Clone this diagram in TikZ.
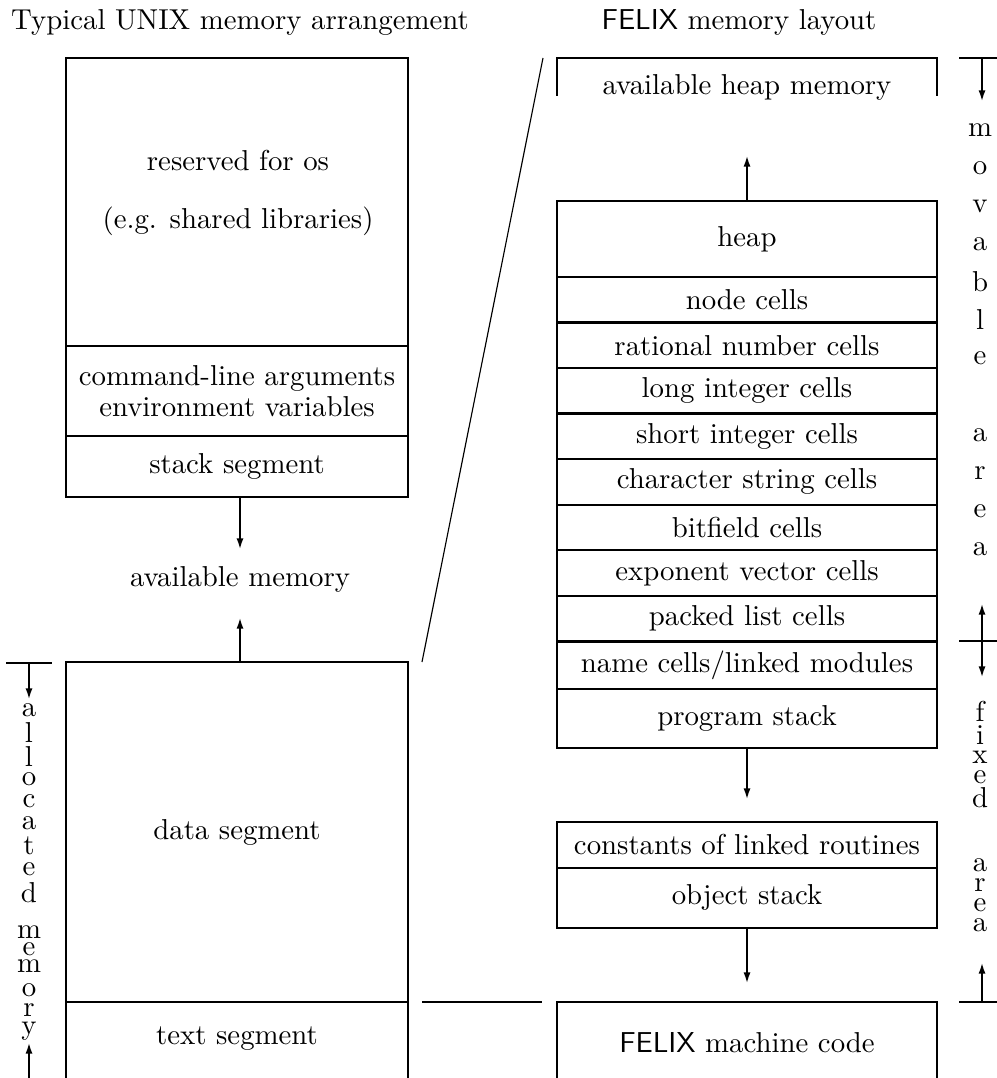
\documentclass[tikz,border=0pt]{standalone}
\usepackage{tikz}
\usetikzlibrary{arrows.meta,positioning}
\tikzset{%
	memcell/.style  = {draw, rectangle, line width=0.8pt, outer sep=0pt, minimum width=4.636cm, minimum height=0.556cm, text centered},
	unixcell/.style = {memcell, minimum width=4.172cm},
	rule/.style     = {line width=0.8pt},
	arrow/.style    = {line width=0.8pt,-{Latex[length=4pt,width=2.4pt]}},
	letter/.style   = {inner sep=0pt},
}
\begin{document}
\begin{tikzpicture}[x=0.0122cm,y=-0.0122cm]
	\useasboundingbox (0,0) rectangle (996,1078);
	% titles
	\node (unixtitle) at (240,22) {Typical UNIX memory arrangement};
	\node (felixtitle) at (739,22) {\textsf{FELIX} memory layout};

	% UNIX side
	\node[unixcell, minimum height=3.514cm] (os) at (237,202) {};
	\node[align=center] (oslabel) at (238,193) {reserved for os\\[8pt](e.g. shared libraries)};
	\node[unixcell, minimum height=1.098cm, align=center, below=0pt of os] (args) {command-line arguments\\[-1.3pt]environment variables};
	\node[unixcell, minimum height=0.744cm, below=0pt of args] (stack) {stack segment};
	\node (avail) at (240,579) {available memory};
	\node[unixcell, minimum height=4.148cm] (data) at (237,832) {data segment};
	\draw[rule] (data.south west) -- ++(0,80);
	\draw[rule] (data.south east) -- ++(0,80);
	\node (textseg) at (237,1039) {text segment};
	\coordinate (downtip) at (240,550);
	\coordinate (uptip) at (240,617);
	\draw[arrow] (stack.south -| downtip) -- (downtip);
	\draw[arrow] (data.north -| uptip) -- (uptip);

	% allocated memory
	\draw[rule] (6,663) -- (52,663);
	\draw[arrow] (29,663) -- (29,700);
	\draw[arrow] (29,1080) -- (29,1042);
	\foreach \c/\y [count=\i] in {a/710,l/733,l/757,o/779,c/801,a/823,t/846,e/869,d/893,m/932,e/949,m/966,o/990,r/1010,y/1031}
		\node[letter] (alloc\i) at (29,\y) {\c};

	% zoom lines
	\coordinate (zoomlo) at (422,662);
	\coordinate (zoomhi) at (543,58);
	\draw[line width=0.4pt] (zoomlo) -- (zoomhi);
	\draw[rule] (422,1002) -- (542,1002);

	% FELIX side
	\draw[rule] (557,96) -- (557,58) -- (937,58) -- (937,96);
	\node (freeheap) at (747,87) {available heap memory};
	\node[memcell, minimum height=0.927cm] (heap) at (747,239) {heap};
	\node[memcell, below=0pt of heap] (nodecells) {node cells};
	\node[memcell, below=0pt of nodecells] (ratcells) {rational number cells};
	\node[memcell, below=0pt of ratcells] (longcells) {long integer cells};
	\node[memcell, below=0pt of longcells] (shortcells) {short integer cells};
	\node[memcell, below=0pt of shortcells] (strcells) {character string cells};
	\node[memcell, below=0pt of strcells] (bitcells) {bitfield cells};
	\node[memcell, below=0pt of bitcells] (expcells) {exponent vector cells};
	\node[memcell, below=0pt of expcells] (packcells) {packed list cells};
	\node[memcell, below=0pt of packcells] (namecells) {name cells/linked modules};
	\node[memcell, minimum height=0.72cm, below=0pt of namecells] (progstack) {program stack};
	\node[memcell] (constcells) at (747,845) {constants of linked routines};
	\node[memcell, minimum height=0.732cm, below=0pt of constcells] (objstack) {object stack};
	\draw[rule] (557,1080) -- (557,1002) -- (937,1002) -- (937,1080);
	\node (felixcode) at (747,1043) {\textsf{FELIX} machine code};
	\coordinate (heaptip) at (747,155);
	\coordinate (progtip) at (747,800);
	\coordinate (objtip) at (747,984);
	\draw[arrow] (heap.north) -- (heaptip);
	\draw[arrow] (progstack.south) -- (progtip);
	\draw[arrow] (objstack.south) -- (objtip);

	% movable / fixed area
	\draw[rule] (959,58) -- (998,58);
	\draw[rule] (959,641) -- (998,641);
	\draw[rule] (959,1002) -- (998,1002);
	\draw[arrow] (982,58) -- (982,102);
	\draw[arrow] (982,641) -- (982,603);
	\draw[arrow] (982,641) -- (982,678);
	\draw[arrow] (982,1002) -- (982,962);
	\foreach \c/\y [count=\i] in {m/130,o/168,v/206,a/244,b/282,l/320,e/358,a/435,r/473,e/511,a/549}
		\node[letter] (mov\i) at (980,\y) {\c};
	\foreach \c/\y [count=\i] in {f/711,i/735,x/757,e/777,d/798,a/865,r/885,e/905,a/925}
		\node[letter] (fix\i) at (980,\y) {\c};
\end{tikzpicture}
\end{document}
